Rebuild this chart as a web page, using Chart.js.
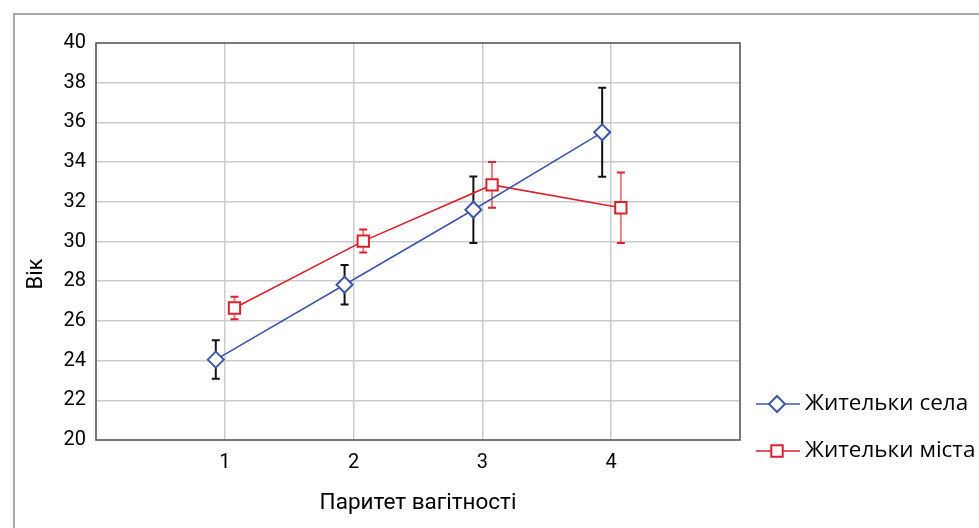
<!DOCTYPE html>
<html>
<head>
<meta charset="utf-8">
<script src="https://cdn.jsdelivr.net/npm/chart.js@4.4.1/dist/chart.umd.min.js"></script>
<style>
  html, body { margin: 0; padding: 0; background: #ffffff; }
  #wrap { width: 979px; height: 528px; position: relative; }
</style>
</head>
<body>
<div id="wrap"><canvas id="c" width="979" height="528"></canvas></div>
<script>
// ---- data ----
const categories = [1, 2, 3, 4];
const xTickLabels = ['1', '2', '3', '4'];
const villageLabel = 'Жительки села';
const cityLabel = 'Жительки міста';
const villageMean = [24.05, 27.82, 31.6, 35.5];
const villageErr  = [0.97, 1.0, 1.67, 2.24];
const cityMean    = [26.65, 30.02, 32.85, 31.7];
const cityErr     = [0.57, 0.58, 1.15, 1.78];
const yTitle = 'Вік';
const xTitle = 'Паритет вагітності';

// ---- styling ----
const BLUE = '#3f57a8';
const RED = '#d9222d';
const AXIS_FONT = 'Roboto';
const LEGEND_FONT = 'Open Sans';

function pts(means, shift) {
  return categories.map((c, i) => ({ x: c + shift, y: means[i] }));
}

const errorBars = {
  id: 'errorBars',
  beforeDatasetsDraw(chart) {
    const ctx = chart.ctx;
    const y = chart.scales.y;
    chart.data.datasets.forEach((ds, di) => {
      const meta = chart.getDatasetMeta(di);
      const errs = ds.errors;
      meta.data.forEach((el, i) => {
        const v = ds.data[i].y;
        const yTop = y.getPixelForValue(v + errs[i]);
        const yBot = y.getPixelForValue(v - errs[i]);
        ctx.save();
        ctx.lineWidth = 2;
        ctx.strokeStyle = ds.errStem;
        ctx.beginPath();
        ctx.moveTo(el.x, yTop); ctx.lineTo(el.x, yBot);
        ctx.stroke();
        ctx.strokeStyle = ds.errCap;
        ctx.beginPath();
        ctx.moveTo(el.x - 4, yTop); ctx.lineTo(el.x + 4, yTop);
        ctx.moveTo(el.x - 4, yBot); ctx.lineTo(el.x + 4, yBot);
        ctx.stroke();
        ctx.restore();
      });
    });
  }
};

const frame = {
  id: 'frame',
  beforeDraw(chart) {
    const ctx = chart.ctx;
    ctx.save();
    ctx.strokeStyle = '#a9a9a9';
    ctx.lineWidth = 2;
    ctx.beginPath();
    ctx.moveTo(14, 528); ctx.lineTo(14, 14); ctx.lineTo(979, 14);
    ctx.stroke();
    ctx.restore();
  },
  beforeDatasetsDraw(chart) {
    const a = chart.chartArea;
    const ctx = chart.ctx;
    ctx.save();
    ctx.strokeStyle = '#4d4d4d';
    ctx.lineWidth = 1.5;
    ctx.strokeRect(a.left, a.top, a.right - a.left, a.bottom - a.top);
    ctx.restore();
  },
  afterDraw(chart) {
    const ctx = chart.ctx;
    // y axis title
    ctx.save();
    ctx.fillStyle = '#000';
    ctx.font = '22px ' + AXIS_FONT;
    ctx.textAlign = 'center';
    ctx.textBaseline = 'middle';
    ctx.translate(36, 274);
    ctx.rotate(-Math.PI / 2);
    ctx.fillText(yTitle, 0, 0);
    ctx.restore();
    // legend
    const items = chart.data.datasets;
    const rows = [404, 451];
    items.forEach((ds, i) => {
      const cy = rows[i];
      const x0 = 756, x1 = 800, cx = 777;
      ctx.save();
      ctx.strokeStyle = ds.borderColor;
      ctx.lineWidth = 1.5;
      ctx.beginPath(); ctx.moveTo(x0, cy); ctx.lineTo(x1, cy); ctx.stroke();
      ctx.fillStyle = '#fff';
      ctx.strokeStyle = ds.pointBorderColor;
      ctx.lineWidth = 2;
      ctx.beginPath();
      if (ds.pointStyle === 'rectRot') {
        ctx.moveTo(cx, cy - 8); ctx.lineTo(cx + 8, cy); ctx.lineTo(cx, cy + 8); ctx.lineTo(cx - 8, cy); ctx.closePath();
      } else {
        ctx.rect(cx - 5.7, cy - 5.7, 11.4, 11.4);
      }
      ctx.fill(); ctx.stroke();
      ctx.fillStyle = '#000';
      ctx.font = '22.5px ' + LEGEND_FONT;
      ctx.textAlign = 'left';
      ctx.textBaseline = 'middle';
      ctx.fillText(ds.label, 805, cy);
      ctx.restore();
    });
  }
};

new Chart(document.getElementById('c'), {
  type: 'line',
  data: {
    datasets: [
      {
        label: villageLabel,
        data: pts(villageMean, -0.07),
        errors: villageErr,
        errStem: '#111111',
        errCap: '#111111',
        borderColor: BLUE,
        borderWidth: 1.6,
        pointStyle: 'rectRot',
        pointRadius: 8,
        pointHoverRadius: 8,
        pointBorderWidth: 2,
        pointBorderColor: BLUE,
        pointBackgroundColor: '#ffffff',
        tension: 0,
        fill: false
      },
      {
        label: cityLabel,
        data: pts(cityMean, 0.075),
        errors: cityErr,
        errStem: 'rgba(226,80,92,0.75)',
        errCap: RED,
        borderColor: RED,
        borderWidth: 1.6,
        pointStyle: 'rect',
        pointRadius: 8,
        pointHoverRadius: 8,
        pointBorderWidth: 2,
        pointBorderColor: RED,
        pointBackgroundColor: '#ffffff',
        tension: 0,
        fill: false
      }
    ]
  },
  options: {
    responsive: false,
    animation: false,
    events: [],
    layout: { padding: { left: 0, right: 239, top: 43, bottom: 0 } },
    plugins: { legend: { display: false }, tooltip: { enabled: false } },
    scales: {
      x: {
        type: 'linear',
        min: 0, max: 5,
        afterFit(s) { s.height = 88; },
        afterBuildTicks(s) { s.ticks = [0, 1, 2, 3, 4, 5].map(v => ({ value: v })); },
        ticks: {
          padding: 11,
          color: '#000',
          font: { family: AXIS_FONT, size: 20 },
          callback(v) { const i = categories.indexOf(v); return i >= 0 ? xTickLabels[i] : ''; }
        },
        grid: {
          drawTicks: false,
          lineWidth: 1.5,
          color(ctx) { const v = ctx.tick && ctx.tick.value; return (v === 0 || v === 5) ? 'rgba(0,0,0,0)' : '#cbcbcb'; }
        },
        border: { display: false },
        title: {
          display: true, text: xTitle, color: '#000',
          font: { family: AXIS_FONT, size: 22.5 },
          padding: { top: 0, bottom: 11 }
        }
      },
      y: {
        min: 20, max: 40,
        afterFit(s) { s.width = 96; },
        ticks: {
          stepSize: 2,
          padding: 10,
          color: '#000',
          font: { family: AXIS_FONT, size: 20 }
        },
        grid: {
          drawTicks: false,
          lineWidth: 1.5,
          color(ctx) { const v = ctx.tick && ctx.tick.value; return (v === 20 || v === 40) ? 'rgba(0,0,0,0)' : '#cbcbcb'; }
        },
        border: { display: false }
      }
    }
  },
  plugins: [frame, errorBars]
});
</script>
</body>
</html>
